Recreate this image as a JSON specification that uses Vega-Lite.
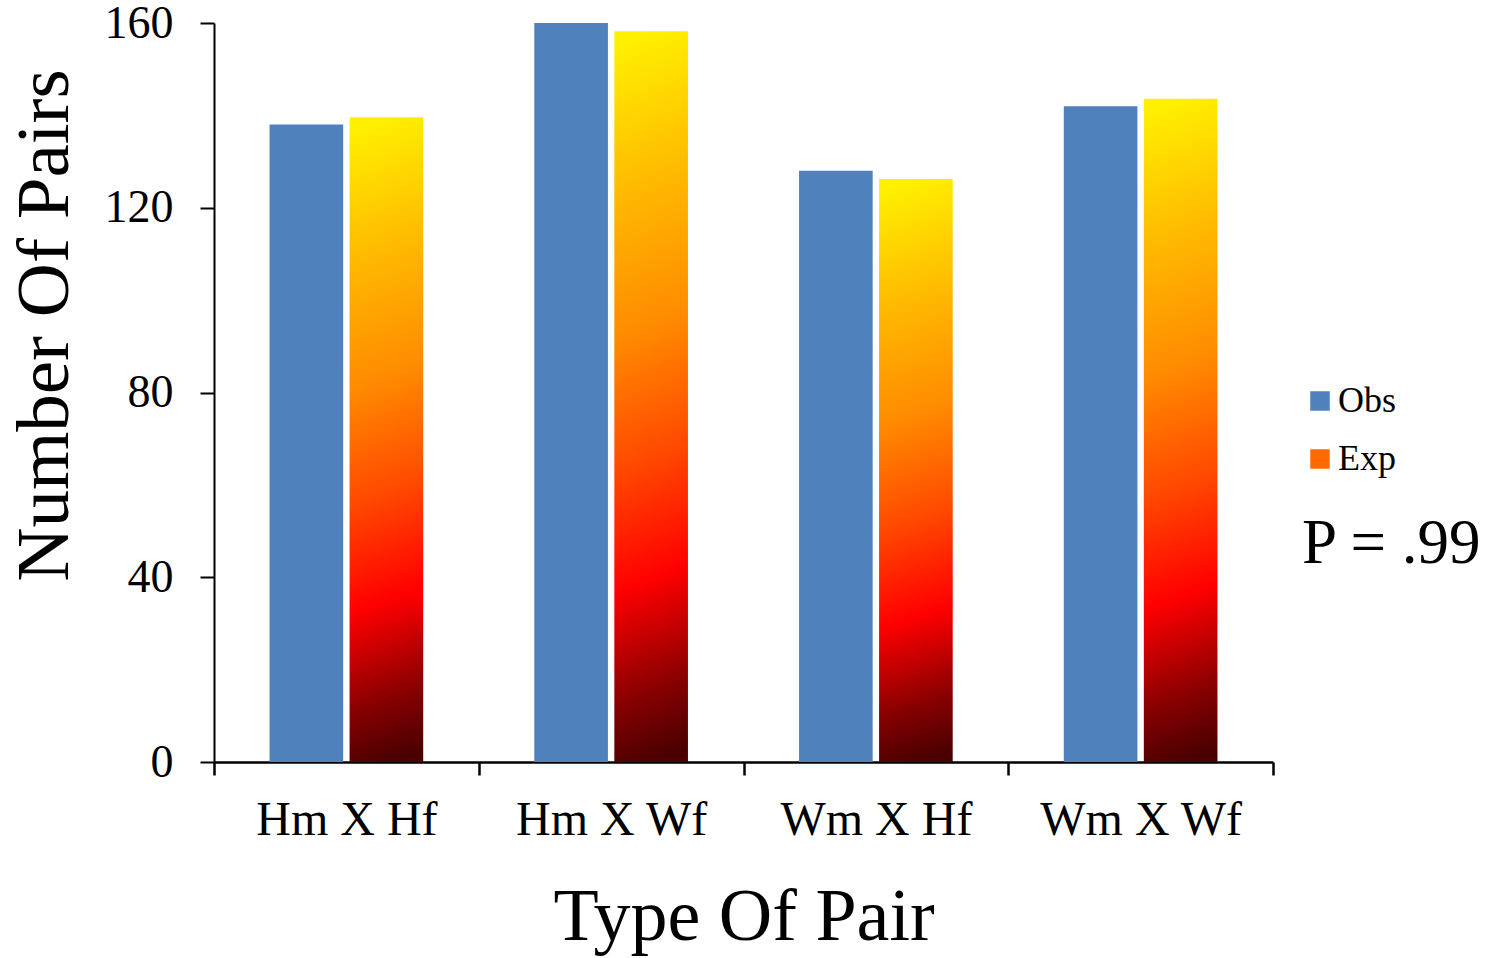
{
  "$schema": "https://vega.github.io/schema/vega-lite/v6.json",
  "width": 1059,
  "height": 739,
  "autosize": {"type": "none"},
  "padding": {"left": 214, "top": 23, "right": 224, "bottom": 196},
  "background": "white",
  "config": {
    "font": "Liberation Serif",
    "view": {"stroke": null}
  },
  "data": {
    "values": [
      {"pair": "Hm X Hf", "series": "Obs", "count": 138},
      {"pair": "Hm X Hf", "series": "Exp", "count": 139.6},
      {"pair": "Hm X Wf", "series": "Obs", "count": 160},
      {"pair": "Hm X Wf", "series": "Exp", "count": 158.2},
      {"pair": "Wm X Hf", "series": "Obs", "count": 128},
      {"pair": "Wm X Hf", "series": "Exp", "count": 126.2},
      {"pair": "Wm X Wf", "series": "Obs", "count": 142},
      {"pair": "Wm X Wf", "series": "Exp", "count": 143.6}
    ]
  },
  "encoding": {
    "x": {
      "field": "pair",
      "type": "nominal",
      "sort": ["Hm X Hf", "Hm X Wf", "Wm X Hf", "Wm X Wf"],
      "scale": {"paddingInner": 0, "paddingOuter": 0},
      "axis": {
        "title": "Type Of Pair",
        "titleFontSize": 74,
        "titleFontWeight": "normal",
        "titleColor": "black",
        "titlePadding": 37,
        "labelAngle": 0,
        "labelFontSize": 48,
        "labelLimit": 500,
        "labelColor": "black",
        "labelPadding": 21,
        "tickBand": "extent",
        "tickSize": 13,
        "tickWidth": 2.5,
        "tickColor": "black",
        "domainColor": "black",
        "domainWidth": 2.5
      }
    },
    "xOffset": {
      "field": "series",
      "type": "nominal",
      "scale": {"domain": ["Obs", "Exp"], "paddingInner": 0.08, "paddingOuter": 0.694}
    },
    "y": {
      "field": "count",
      "type": "quantitative",
      "scale": {"domain": [0, 160], "nice": false},
      "axis": {
        "title": "Number Of Pairs",
        "titleFontSize": 75,
        "titleFontWeight": "normal",
        "titleColor": "black",
        "titlePadding": 21,
        "titleY": 302,
        "values": [0, 40, 80, 120, 160],
        "labelFontSize": 46,
        "labelColor": "black",
        "labelPadding": 27,
        "tickSize": 14,
        "tickWidth": 2,
        "tickColor": "black",
        "domainColor": "black",
        "domainWidth": 2,
        "grid": false
      }
    }
  },
  "layer": [
    {
      "transform": [{"filter": "datum.series === 'Obs'"}],
      "mark": {"type": "bar"},
      "encoding": {
        "color": {
          "field": "series",
          "type": "nominal",
          "scale": {"domain": ["Obs", "Exp"], "range": ["#4f81bd", "#ff6a00"]},
          "legend": {
            "title": "P = .99",
            "titleOrient": "bottom",
            "titleFontSize": 63,
            "titleFontWeight": "normal",
            "titleColor": "black",
            "titleLimit": 500,
            "titlePadding": 36,
            "orient": "none",
            "legendX": 1088,
            "legendY": 360,
            "symbolType": "square",
            "symbolSize": 380,
            "symbolStrokeWidth": 0,
            "labelFontSize": 36,
            "labelColor": "black",
            "labelOffset": 0,
            "rowPadding": 22
          }
        }
      }
    },
    {
      "transform": [{"filter": "datum.series === 'Exp'"}],
      "mark": {
        "type": "bar",
        "color": {
          "gradient": "linear",
          "x1": 0.52, "y1": 1, "x2": 0.48, "y2": 0,
          "stops": [
            {"offset": 0, "color": "#4a0000"},
            {"offset": 0.1, "color": "#8a0000"},
            {"offset": 0.25, "color": "#ff0000"},
            {"offset": 0.42, "color": "#ff4a00"},
            {"offset": 0.6, "color": "#ff8c00"},
            {"offset": 0.8, "color": "#ffbb00"},
            {"offset": 1, "color": "#fff000"}
          ]
        }
      }
    }
  ]
}
